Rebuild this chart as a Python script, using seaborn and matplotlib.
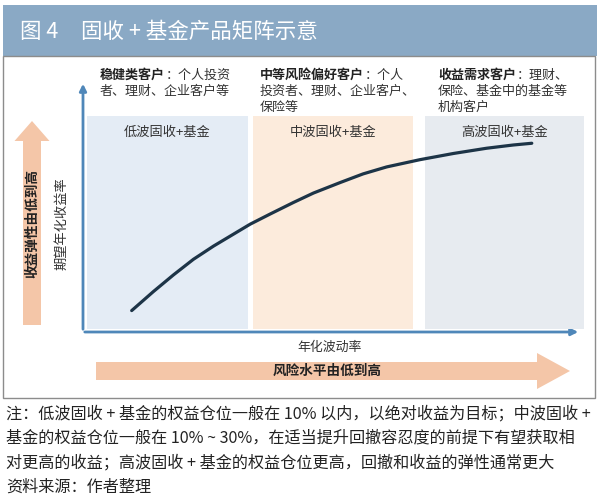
import matplotlib
matplotlib.use("Agg")
import matplotlib.pyplot as plt
import seaborn as sns
import pandas as pd
from matplotlib.patches import Rectangle, FancyArrow

# 数据：年化波动率 vs 期望年化收益率
vol = [0.97, 1.40, 1.80, 2.20, 2.60, 2.99, 3.33, 3.73, 4.19, 4.59,
       5.12, 5.58, 6.05, 6.71, 7.38, 8.04, 8.57, 8.94]
ret = [0.86, 1.62, 2.29, 2.92, 3.45, 3.92, 4.33, 4.74, 5.20, 5.58,
       6.00, 6.35, 6.63, 6.92, 7.17, 7.38, 7.51, 7.58]

panel_names = ["低波固收+基金", "中波固收+基金", "高波固收+基金"]
panel_left = [0.08, 3.39, 6.81]
panel_right = [3.29, 6.57, 9.98]
panel_bottom = 0.12
panel_top = 8.67
panel_colors = ["#e4ecf5", "#fcebdc", "#e7ebf0"]

client_bold = ["稳健类客户", "中等风险偏好客户", "收益需求客户"]
client_rest = [
    ["：个人投资", "者、理财、企业客户等"],
    ["：个人", "投资者、理财、企业客户、", "保险等"],
    ["：理财、", "保险、基金中的基金等", "机构客户"],
]

title_num = "图 4"
title_text = "固收 + 基金产品矩阵示意"
y_label = "期望年化收益率"
x_label = "年化波动率"
y_arrow_text = "收益弹性由低到高"
x_arrow_text = "风险水平由低到高"
notes = [
    "注：低波固收 + 基金的权益仓位一般在 10% 以内，以绝对收益为目标；中波固收 +",
    "基金的权益仓位一般在 10% ~ 30%，在适当提升回撤容忍度的前提下有望获取相",
    "对更高的收益；高波固收 + 基金的权益仓位更高，回撤和收益的弹性通常更大",
    "资料来源：作者整理",
]

sns.set_theme(style="white")
plt.rcParams["font.family"] = ["Noto Sans CJK SC", "DejaVu Sans"]

W, H = 599, 500
fig = plt.figure(figsize=(W / 100, H / 100), dpi=100)

# 整图叠加层，像素坐标
bg = fig.add_axes([0, 0, 1, 1])
bg.set_xlim(0, W)
bg.set_ylim(H, 0)
bg.axis("off")

bg.add_patch(Rectangle((3, 5), 594, 51, color="#8aa9c5", lw=0))
bg.text(20, 32, title_num, color="white", fontsize=15.5, va="center")
bg.text(81, 32, title_text, color="white", fontsize=15.5, va="center")
bg.add_patch(Rectangle((3, 56), 592, 342, fill=False, edgecolor="#8c8c8c", lw=1))

# 左侧和底部大箭头
bg.add_patch(FancyArrow(32, 325, 0, -184, width=18, head_width=35, head_length=20,
                        length_includes_head=False, color="#f4c6a8", lw=0))
bg.add_patch(FancyArrow(96, 371, 441, 0, width=18, head_width=36, head_length=33,
                        length_includes_head=False, color="#f4c6a8", lw=0))
bg.text(32, 223, y_arrow_text, rotation=90, fontsize=9.8, fontweight="bold",
        color="#222222", ha="center", va="center")
bg.text(62, 224, y_label, rotation=90, fontsize=9.5, color="#333333",
        ha="center", va="center")
bg.text(330, 347, x_label, fontsize=9.3, color="#333333", ha="center", va="center")
bg.text(327, 371, x_arrow_text, fontsize=9.8, fontweight="bold", color="#222222",
        ha="center", va="center")

# 客户说明
fs = 9.4
em = fs * 100 / 72
cols_x = [100, 260, 438]
rows_y = [75, 91, 107]
for cx, b, rest in zip(cols_x, client_bold, client_rest):
    bg.text(cx, rows_y[0], b, fontsize=fs, fontweight="bold", color="#222222", va="center")
    bg.text(cx + len(b) * em, rows_y[0], rest[0], fontsize=fs, color="#333333", va="center")
    for i, line in enumerate(rest[1:]):
        bg.text(cx, rows_y[i + 1], line, fontsize=fs, color="#333333", va="center")

# 注释
for i, line in enumerate(notes):
    bg.text(6, 414 + i * 24.3, line, fontsize=11.6, color="#222222", va="center")

# 坐标轴箭头
bg.annotate("", xy=(83, 81), xytext=(83, 332),
            arrowprops=dict(arrowstyle="-|>", color="#4f87b9", lw=2, mutation_scale=10))
bg.annotate("", xy=(581, 332), xytext=(82, 332),
            arrowprops=dict(arrowstyle="-|>", color="#4f87b9", lw=2, mutation_scale=10))

# 主图区
ax = fig.add_axes([83 / W, (H - 332) / H, 502 / W, 249 / H])
ax.set_xlim(0, 10)
ax.set_ylim(0, 10)
ax.patch.set_alpha(0)
for s in ax.spines.values():
    s.set_visible(False)
ax.set_xticks([])
ax.set_yticks([])

widths = [r - l for l, r in zip(panel_left, panel_right)]
ax.bar(panel_left, panel_top - panel_bottom, width=widths, bottom=panel_bottom,
       align="edge", color=panel_colors, lw=0, zorder=1)
for l, r, name in zip(panel_left, panel_right, panel_names):
    ax.text((l + r) / 2, 8.0, name, fontsize=9.5, color="#333333", ha="center",
            va="center", zorder=3)

df = pd.DataFrame({"vol": vol, "ret": ret})
sns.lineplot(data=df, x="vol", y="ret", ax=ax, color="#1d3447", lw=2.3, zorder=4)
ax.set_xlabel("")
ax.set_ylabel("")

fig.savefig("out.png", dpi=100)
